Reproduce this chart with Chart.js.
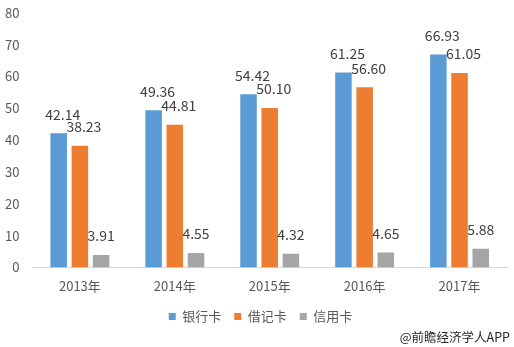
<!DOCTYPE html>
<html>
<head>
<meta charset="utf-8">
<script src="https://cdn.jsdelivr.net/npm/chart.js@4/dist/chart.umd.min.js"></script>
<style>
  html, body { margin: 0; padding: 0; background: #fff; }
  #wrap { width: 514px; height: 347px; position: relative; }
</style>
</head>
<body>
<div id="wrap"><canvas id="chart" width="514" height="347"></canvas></div>
<script>
// chart data
const years = ['2013年', '2014年', '2015年', '2016年', '2017年'];
const seriesNames = ['银行卡', '借记卡', '信用卡'];
const bankCard = [42.14, 49.36, 54.42, 61.25, 66.93];
const debitCard = [38.23, 44.81, 50.10, 56.60, 61.05];
const creditCard = [3.91, 4.55, 4.32, 4.65, 5.88];
const yTicks = [0, 10, 20, 30, 40, 50, 60, 70, 80];
const colors = ['#5B9BD5', '#ED7D31', '#A5A5A5'];

const fontFamily = '"Microsoft YaHei", "Noto Sans CJK SC", sans-serif';

// value labels above each bar (first two series sit a bit to the right, like excel)
const valueLabels = {
    id: 'valueLabels',
    afterDatasetsDraw(chart) {
        const ctx = chart.ctx;
        ctx.save();
        ctx.font = '14px ' + fontFamily;
        ctx.fillStyle = '#404040';
        ctx.textAlign = 'center';
        ctx.textBaseline = 'bottom';
        chart.data.datasets.forEach((ds, i) => {
            const shift = i < 2 ? 4 : 0;
            chart.getDatasetMeta(i).data.forEach((bar, j) => {
                ctx.fillText(ds.data[j].toFixed(2), bar.x + shift, bar.y - 12);
            });
        });
        ctx.restore();
    }
};

// nudge legend a bit right, it sits centred under the plot in the original
const legendShift = {
    id: 'legendShift',
    afterLayout(chart) {
        chart.legend.left += 7;
        chart.legend.right += 7;
    }
};

// source note bottom right
const sourceNote = {
    id: 'sourceNote',
    afterDraw(chart) {
        const ctx = chart.ctx;
        ctx.save();
        ctx.font = '12.5px ' + fontFamily;
        ctx.fillStyle = '#262626';
        ctx.textAlign = 'right';
        ctx.textBaseline = 'middle';
        ctx.fillText('@前瞻经济学人APP', 510, 337);
        ctx.restore();
    }
};

const datasets = [bankCard, debitCard, creditCard].map((values, i) => ({
    label: seriesNames[i],
    data: values,
    backgroundColor: colors[i],
    barPercentage: 0.78,
    categoryPercentage: 0.67
}));

new Chart(document.getElementById('chart'), {
    type: 'bar',
    data: { labels: years, datasets: datasets },
    options: {
        responsive: false,
        animation: false,
        layout: { padding: { top: -16, right: 7, bottom: 14, left: 0 } },
        plugins: {
            legend: {
                position: 'bottom',
                labels: {
                    boxWidth: 7,
                    boxHeight: 7,
                    padding: 13,
                    color: '#595959',
                    font: { size: 13, family: fontFamily }
                }
            },
            tooltip: { enabled: false }
        },
        scales: {
            x: {
                grid: { display: false },
                border: { color: '#d9d9d9' },
                ticks: { color: '#595959', padding: 3, font: { size: 13, family: fontFamily } }
            },
            y: {
                min: 0,
                max: 80,
                afterBuildTicks: axis => { axis.ticks = yTicks.map(v => ({ value: v })); },
                grid: { display: false },
                border: { display: false },
                ticks: { color: '#595959', padding: 5, font: { size: 13, family: fontFamily } }
            }
        }
    },
    plugins: [valueLabels, legendShift, sourceNote]
});
</script>
</body>
</html>
